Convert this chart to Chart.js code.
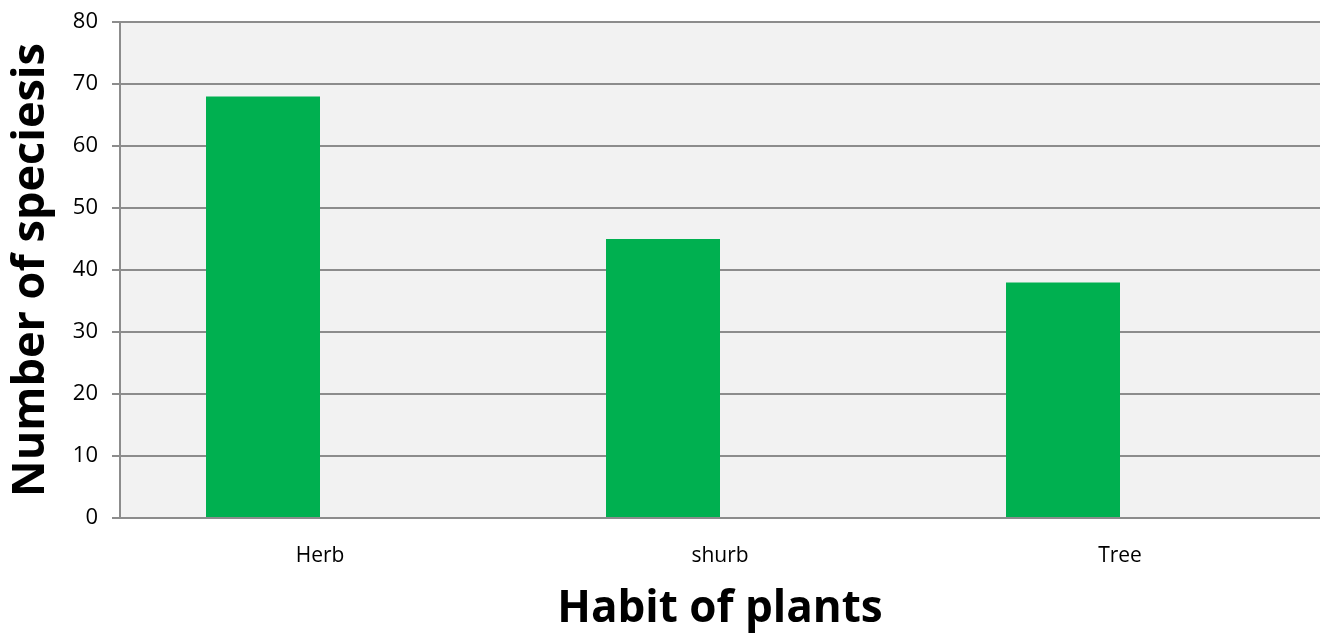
<!DOCTYPE html>
<html>
<head>
<meta charset="utf-8">
<script src="https://cdn.jsdelivr.net/npm/chart.js@4"></script>
<style>
  html, body { margin: 0; padding: 0; background: #fff; }
  #wrap { width: 1320px; height: 640px; }
</style>
</head>
<body>
<div id="wrap"><canvas id="habitChart"></canvas></div>
<script>
const categories = ['Herb', 'shurb', 'Tree'];
const speciesCounts = [68, 45, 38];
const yTicks = [0, 10, 20, 30, 40, 50, 60, 70, 80];

// light grey plot background like the original spreadsheet chart
const plotBackground = {
  id: 'plotBackground',
  beforeDraw(chart) {
    const { ctx, chartArea: a } = chart;
    ctx.save();
    ctx.fillStyle = '#f2f2f2';
    ctx.fillRect(a.left, a.top, a.right - a.left, a.bottom - a.top);
    ctx.restore();
  }
};

const ctx = document.getElementById('habitChart').getContext('2d');
new Chart(ctx, {
  type: 'bar',
  data: {
    labels: categories,
    datasets: [{
      label: 'Number of speciesis',
      data: speciesCounts,
      backgroundColor: '#00b050',
      borderWidth: 0,
      categoryPercentage: 0.57,
      barPercentage: 1
    }, {
      // empty second series: keeps the bars left of each label, as in the source
      label: '',
      data: categories.map(() => null),
      backgroundColor: 'rgba(0,0,0,0)',
      categoryPercentage: 0.57,
      barPercentage: 1
    }]
  },
  options: {
    responsive: true,
    maintainAspectRatio: false,
    animation: false,
    layout: { padding: { top: 22, right: 0, left: 0, bottom: 0 } },
    plugins: {
      legend: { display: false },
      tooltip: { enabled: false }
    },
    scales: {
      x: {
        grid: { display: false },
        border: { display: false },
        ticks: {
          color: '#000',
          padding: 17,
          font: { family: '"Open Sans", Lato, sans-serif', size: 21 }
        },
        title: {
          display: true,
          text: 'Habit of plants',
          color: '#000',
          padding: { top: 10 },
          font: { family: '"Open Sans", Lato, sans-serif', size: 44, weight: 'bold' }
        },
        afterFit(scale) {
          scale.height = 122;
          scale.paddingLeft = 0;
          scale.paddingRight = 0;
        }
      },
      y: {
        min: 0,
        max: 80,
        afterBuildTicks(scale) { scale.ticks = yTicks.map(v => ({ value: v })); },
        grid: {
          color: '#8c8c8c',
          lineWidth: 2,
          tickLength: 8,
          drawTicks: true
        },
        border: { display: true, color: '#8c8c8c', width: 2 },
        ticks: {
          color: '#000',
          padding: 14,
          font: { family: '"Open Sans", Lato, sans-serif', size: 22 }
        },
        title: {
          display: true,
          text: 'Number of speciesis',
          color: '#000',
          padding: { top: 4, bottom: 0 },
          font: { family: '"Open Sans", Lato, sans-serif', size: 45, weight: 'bold' }
        },
        afterFit(scale) {
          scale.width = 120;
          scale.paddingTop = 0;
          scale.paddingBottom = 0;
        }
      }
    }
  },
  plugins: [plotBackground]
});
</script>
</body>
</html>
